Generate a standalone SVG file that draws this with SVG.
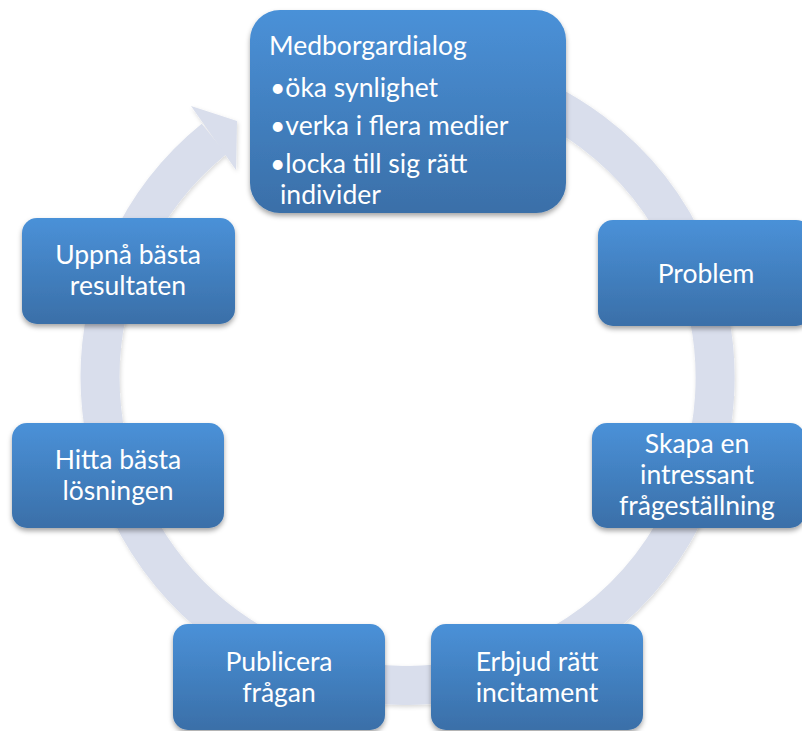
<svg xmlns="http://www.w3.org/2000/svg" width="802" height="731" viewBox="0 0 802 731">
  <defs>
    <linearGradient id="boxGrad" x1="0" y1="0" x2="0" y2="1">
      <stop offset="0" stop-color="#4a91d8"/>
      <stop offset="1" stop-color="#3a6fa8"/>
    </linearGradient>
    <filter id="shadow" x="-10%" y="-10%" width="125%" height="130%">
      <feDropShadow dx="0" dy="3" stdDeviation="2.5" flood-color="#000" flood-opacity="0.35"/>
    </filter>
    <filter id="ringShadow" x="-10%" y="-10%" width="125%" height="125%">
      <feDropShadow dx="1" dy="2" stdDeviation="2" flood-color="#000" flood-opacity="0.15"/>
    </filter>
  </defs>
  <style>
    .box { fill: url(#boxGrad); filter: url(#shadow); }
    .lbl { font-family: Lato, "Open Sans", "Liberation Sans", sans-serif; font-size: 26.5px; fill: #ffffff; text-anchor: middle; }
    .lbl-l { font-family: Lato, "Open Sans", "Liberation Sans", sans-serif; font-size: 26.5px; fill: #ffffff; }
    .ring { fill: none; stroke: #d9deec; stroke-width: 39; }
    .head { fill: #d9deec; }
  </style>
  <rect width="802" height="731" fill="#ffffff"/>

  <g id="connectors" filter="url(#ringShadow)">
    <path class="ring" d="M 302.3 89.0 A 307.5 307.5 0 1 1 214.0 139.0"/>
    <polygon class="head" points="191,106 237,121 236,170"/>
  </g>

  <g id="node-medborgardialog">
    <rect class="box" x="250" y="10" width="316" height="203" rx="30" ry="30"/>
    <text class="lbl-l" x="269" y="55">Medborgardialog</text>
    <text class="lbl-l" x="270" y="97">•öka synlighet</text>
    <text class="lbl-l" x="270" y="135">•verka i flera medier</text>
    <text class="lbl-l" x="270" y="173">•locka till sig rätt</text>
    <text class="lbl-l" x="280" y="204">individer</text>
  </g>

  <g id="node-problem">
    <rect class="box" x="598" y="220" width="213" height="106" rx="15" ry="15"/>
    <text class="lbl" x="706" y="283">Problem</text>
  </g>

  <g id="node-skapa">
    <rect class="box" x="592" y="423" width="213" height="105" rx="15" ry="15"/>
    <text class="lbl" x="697" y="453">Skapa en</text>
    <text class="lbl" x="697" y="484">intressant</text>
    <text class="lbl" x="697" y="515">frågeställning</text>
  </g>

  <g id="node-erbjud">
    <rect class="box" x="431" y="624" width="212" height="106" rx="15" ry="15"/>
    <text class="lbl" x="537" y="671">Erbjud rätt</text>
    <text class="lbl" x="537" y="702">incitament</text>
  </g>

  <g id="node-publicera">
    <rect class="box" x="173" y="624" width="212" height="106" rx="15" ry="15"/>
    <text class="lbl" x="279" y="671">Publicera</text>
    <text class="lbl" x="279" y="702">frågan</text>
  </g>

  <g id="node-hitta">
    <rect class="box" x="12" y="423" width="212" height="105" rx="15" ry="15"/>
    <text class="lbl" x="118" y="469">Hitta bästa</text>
    <text class="lbl" x="118" y="500">lösningen</text>
  </g>

  <g id="node-uppna">
    <rect class="box" x="22" y="218" width="213" height="106" rx="15" ry="15"/>
    <text class="lbl" x="128" y="264">Uppnå bästa</text>
    <text class="lbl" x="128" y="295">resultaten</text>
  </g>
</svg>
